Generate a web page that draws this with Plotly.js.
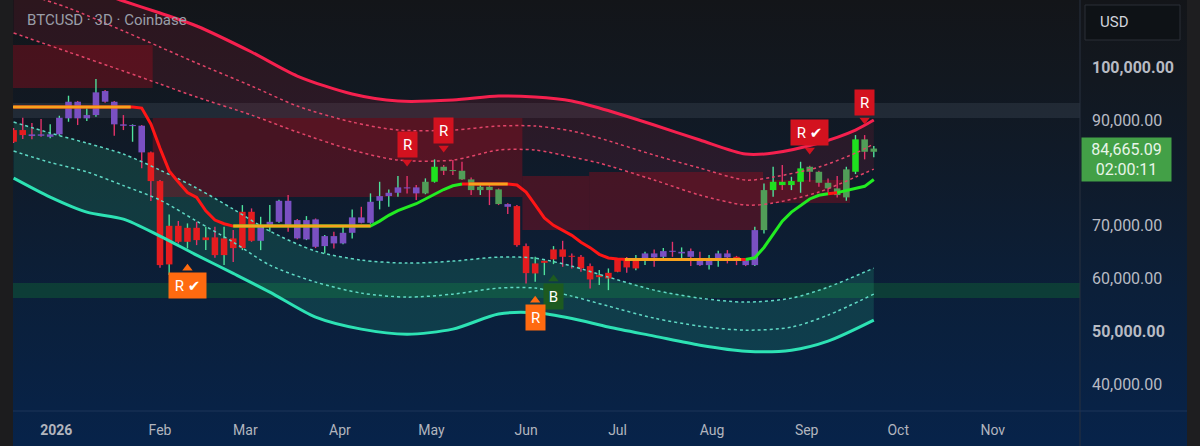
<!DOCTYPE html>
<html><head><meta charset="utf-8">
<script src="https://cdn.plot.ly/plotly-3.0.1.min.js"></script>
<style>
html,body{margin:0;padding:0;background:#0b1a30;}
#chart{width:1200px;height:446px;background:linear-gradient(180deg,#131519 0%,#121820 18%,#0f1b2b 40%,#0b1f39 65%,#07234a 100%);}
</style></head><body><div id="chart"></div>
<script>
// ---------- candle data (3D bars) ----------
const firstBar = '2025-12-15';
const barDays = 3;
const candleOpen = [88175, 88175, 87360, 87360, 86900, 87360, 90400, 93550, 90400, 91020,
 95580, 93550, 89260, 88935, 89000, 83943, 78496, 62685, 70012, 66975,
 69632, 67297, 67810, 64450, 67620, 65779, 72669, 67165, 69822, 70771,
 74757, 71093, 67430, 71226, 66159, 68057, 66671, 68683, 71606, 70581,
 74757, 75649, 76275, 77300, 77300, 76161, 78363, 81210, 80583, 80451,
 78817, 76787, 77414, 76920, 74130, 73751, 66159, 60977, 62989, 63634,
 65532, 64317, 64128, 62363, 60275, 60028, 61281, 63824, 61926, 63824,
 64773, 64128, 65267, 64773, 65210, 63824, 62553, 63634, 64773, 64128,
 63501, 62553, 69195, 76787, 78363, 77737, 78363, 81210, 80261, 78173,
 77110, 75402, 80261, 86410, 84057];
const candleHigh = [88555, 90510, 89500, 90260, 89260, 90890, 94690, 93700, 92290, 97855,
 95770, 93700, 91020, 89260, 89130, 84100, 78700, 72175, 70904, 70467,
 70771, 69822, 69822, 69822, 69195, 73940, 73314, 71720, 73940, 74950,
 75839, 71300, 71853, 71400, 68247, 68873, 69822, 73124, 73618, 76161,
 78363, 76920, 79445, 79445, 77737, 79008, 82614, 81533, 82481, 82159,
 79198, 78059, 77737, 77100, 74300, 73940, 66671, 64128, 63400, 66159,
 67165, 64773, 64450, 62875, 61603, 61926, 63881, 64071, 64450, 65077,
 65532, 65779, 66975, 65912, 65722, 65077, 64450, 65267, 65399, 64300,
 63634, 69822, 78059, 81210, 81533, 79312, 82159, 81400, 80450, 79008,
 79445, 81210, 87226, 87226, 85139];
const candleLow = [85710, 86470, 86410, 86900, 86600, 87090, 89750, 89125, 89880, 90700,
 93360, 87090, 88175, 85955, 80906, 74700, 62040, 60655, 66671, 65722,
 66348, 65399, 63938, 62553, 63122, 65399, 66975, 65399, 68873, 70600,
 68873, 67450, 67297, 65779, 64773, 65722, 66500, 67620, 70467, 70400,
 73124, 73618, 75516, 76161, 74889, 76000, 78200, 79635, 79635, 78685,
 75839, 75839, 73940, 73940, 72232, 66026, 59079, 59383, 60655, 62742,
 62230, 61926, 61281, 58130, 58757, 57807, 61200, 61091, 61600, 62553,
 62230, 63800, 64128, 63501, 62363, 62363, 61736, 62230, 62875, 62553,
 62363, 62363, 68569, 75516, 76787, 76787, 76275, 78363, 77414, 76275,
 75402, 74757, 79824, 82614, 82994];
const candleClose = [85955, 87225, 87040, 87090, 87360, 90510, 93550, 90400, 91020, 95330,
 93550, 89260, 88990, 89125, 83943, 78496, 62553, 70012, 66975, 69632,
 67297, 67810, 64450, 67620, 65779, 72669, 67165, 70145, 70771, 74757,
 69822, 67620, 71093, 66026, 68057, 66671, 68683, 71606, 70581, 74567,
 75649, 76275, 77300, 77110, 76161, 78363, 81210, 80451, 80394, 78817,
 76787, 77414, 76787, 74130, 73618, 66348, 61034, 62875, 63369, 65532,
 64128, 64128, 61926, 59838, 60655, 61091, 63634, 62116, 63634, 64773,
 64014, 65210, 65077, 65077, 64128, 62553, 63824, 64773, 64014, 63634,
 62553, 69195, 76787, 78363, 77737, 78496, 80906, 80261, 78173, 77110,
 75839, 80717, 86410, 84057, 84665.09];
// trend colouring of each bar: r = bearish, p = neutral, g = bullish, G = strong bullish
const candleTrend = ('rr' + 'ppppppppppppp' + 'rrrrrrrrrrrr' + 'pppppppppppppppppp' + 'gG' + 'ggggggg' + 'p' +
  'rrrrrrrrrrrrrr' + 'pppppppppp' + 'r' + 'pp' + 'g' + 'GGGG' + 'ggggg' + 'G' + 'gg').split('');

// ---------- upper (red) envelope, sampled at bar index ----------
const bandIdx   = [0, 6, 12, 16, 20, 26, 31, 37, 42, 48, 53, 57, 61, 64, 70, 75, 80, 83, 88, 92, 94];
const upperLine = [119490, 116270, 112660, 110380, 107920, 102980, 98430, 95010, 93680, 93870, 94630, 94440, 93680, 92350, 89130, 86280, 83620, 83810, 85710, 88180, 90070];
const upperDot1 = [114750, 111330, 106970, 103930, 100890, 96530, 92730, 89690, 88180, 88180, 88940, 88940, 87990, 86660, 83430, 80960, 78690, 79260, 81150, 83810, 85520];
const upperDot2 = [106590, 102980, 99370, 96910, 94440, 91020, 87800, 84380, 82480, 82480, 84380, 84380, 83050, 81910, 78690, 75840, 73940, 74320, 76410, 79250, 80770];

// ---------- lower (teal) envelope ----------
const tealIdx   = [0, 4, 8, 12, 16, 20, 24, 28, 33, 38, 43, 48, 53, 57, 61, 65, 70, 75, 80, 85, 89, 94];
const lowerLine = [79065, 75459, 72612, 71283, 68057, 64450, 60977, 57428, 52683, 50405, 49456, 50405, 53270, 53499, 52436, 50804, 49077, 47369, 46230, 46420, 48128, 52114];
const lowerDot1 = [89694, 87606, 85708, 83620, 80583, 77167, 73181, 69005, 65209, 63501, 62932, 63312, 64071, 63881, 62363, 60275, 57808, 56289, 55530, 56289, 58377, 61983];
const lowerDot2 = [84190, 82030, 80240, 77640, 74890, 70900, 66920, 62550, 59330, 57238, 56479, 57048, 58187, 58187, 56669, 54770, 52493, 50974, 50215, 50785, 53062, 57048];

// ---------- trailing stop line ----------
const trailIdx = [0, 13, 14, 15, 16, 17, 18, 19, 20, 21, 22, 23, 24,
  39, 40, 41, 42, 43, 44, 45, 46, 47, 48, 49,
  54, 55, 56, 57, 58, 59, 60, 61, 62, 63, 64, 65, 66, 67,
  80, 81, 82, 83, 84, 85, 86, 87, 88, 89, 90, 91, 92, 93, 94];
const trailVal = [92540, 92540, 92350, 89330, 84720, 80430, 78300, 76310, 75400, 72850, 71100, 70400, 69950,
  69950, 70900, 72000, 72900, 73600, 74200, 75100, 76000, 76900, 77600, 77950,
  77950, 77750, 76400, 74000, 71500, 70100, 69200, 68200, 66900, 65870, 64600, 63900, 63700, 63620,
  63620, 63950, 65900, 68400, 70900, 72600, 73900, 75100, 75800, 76100, 76300, 76700, 77000, 77500, 78800];
const trailState = ['r','r','r','r','r','r','r','r','r','r','r','r','g',
  'g','g','g','g','g','g','g','g','g','g','r',
  'r','r','r','r','r','r','r','r','r','r','r','r','r','r',
  'g','g','g','g','g','g','g','g','g','r','g','g','g','g','g'];

// ---------- flat levels (orange) ----------
const levelStart = [-0.5, 24, 49.7, 66.8];
const levelEnd   = [12.8, 39, 54, 79.5];
const levelPrice = [92540, 69950, 77950, 63620];

// ---------- stepped supply zone ----------
const zoneStart  = [-0.5, 15.2, 55.6, 62.9, 81.9];
const zoneEnd    = [15.2, 55.6, 62.9, 81.9, 91.4];
const zoneTop    = [104310, 90450, 79450, 80200, 78690];
const zoneBottom = [96150, 75460, 69200, 69200, 74320];

// ---------- horizontal zones ----------
const grayZone  = [90450, 93300];
const greenZone = [56300, 59150];

// ---------- signal labels ----------
const sigIdx   = [43, 47, 87, 93, 19, 59, 57];
const sigPrice = [82100, 84760, 84380, 90070, 61980, 59895, 55910];
const sigText  = ['R', 'R', 'R ✔', 'R', 'R ✔', 'B', 'R'];
const sigKind  = ['red', 'red', 'red', 'red', 'orange', 'buy', 'orange'];
const sigSide  = ['above', 'above', 'above', 'above', 'below', 'below', 'below'];

// ---------- axes labels ----------
const monthTicks = ['2025-12-29', '2026-02-01', '2026-03-01', '2026-04-01', '2026-05-01', '2026-06-01',
  '2026-07-01', '2026-08-01', '2026-09-01', '2026-10-01', '2026-11-01'];
const monthText = ['<b>2026</b>', 'Feb', 'Mar', 'Apr', 'May', 'Jun', 'Jul', 'Aug', 'Sep', 'Oct', 'Nov'];
const priceTicks = [40000, 50000, 60000, 70000, 90000, 100000];
const priceText = ['40,000.00', '<b>50,000.00</b>', '60,000.00', '70,000.00', '90,000.00', '<b>100,000.00</b>'];
const lastPrice = 84665.09;
const countdown = '02:00:11';

// ---------- helpers ----------
const DAY = 864e5;
const t0 = Date.parse(firstBar + 'T00:00:00Z');
function barDate(i) {
  return new Date(t0 + i * barDays * DAY).toISOString().slice(0, 19).replace('T', ' ');
}
const fmt = v => v.toLocaleString('en-US', {minimumFractionDigits: 2, maximumFractionDigits: 2});

const bodyColor = {r: '#e41c1f', p: '#7a50c2', g: '#519d58', G: '#1fe01f'};
const wickUp = '#4fe39d', wickDown = '#e5336a';
const sigColor = {red: '#d3121f', orange: '#ff6a10', buy: '#1d5a20'};

const dates = candleOpen.map((_, i) => barDate(i));
const bodyBase = [], bodyLen = [], bodyCol = [], wickCol = [], wickLen = [];
candleOpen.forEach((o, i) => {
  const c = candleClose[i];
  let lo = Math.min(o, c), len = Math.abs(c - o);
  if (len < 200) { lo -= (200 - len) / 2; len = 200; }
  bodyBase.push(lo); bodyLen.push(len);
  bodyCol.push(bodyColor[candleTrend[i]]);
  wickCol.push(c >= o ? wickUp : wickDown);
  wickLen.push(candleHigh[i] - candleLow[i]);
});

const traces = [];
const L1 = {xaxis: 'x', yaxis: 'y', hoverinfo: 'skip', showlegend: false};
const L2 = {xaxis: 'x2', yaxis: 'y2', hoverinfo: 'skip', showlegend: false};

// --- subplot 1 : fills (below candles)
traces.push(Object.assign({type: 'scatter', mode: 'lines', x: tealIdx.map(barDate), y: lowerDot1,
  line: {width: 0, shape: 'spline', smoothing: 0.8}}, L1));
traces.push(Object.assign({type: 'scatter', mode: 'lines', x: tealIdx.map(barDate), y: lowerLine,
  line: {width: 0, shape: 'spline', smoothing: 0.8}, fill: 'tonexty', fillcolor: 'rgba(40,205,150,0.17)'}, L1));
traces.push(Object.assign({type: 'scatter', mode: 'lines', x: bandIdx.map(barDate), y: upperDot2,
  line: {width: 0, shape: 'spline', smoothing: 0.8}}, L1));
traces.push(Object.assign({type: 'scatter', mode: 'lines', x: bandIdx.map(barDate), y: upperLine,
  line: {width: 0, shape: 'spline', smoothing: 0.8}, fill: 'tonexty', fillcolor: 'rgba(200,30,55,0.14)'}, L1));
zoneStart.forEach((s, k) => {
  const a = barDate(s), b = barDate(zoneEnd[k]);
  traces.push(Object.assign({type: 'scatter', mode: 'lines', x: [a, b, b, a, a],
    y: [zoneTop[k], zoneTop[k], zoneBottom[k], zoneBottom[k], zoneTop[k]],
    line: {width: 0}, fill: 'toself', fillcolor: 'rgba(165,12,28,0.36)'}, L1));
});

// --- subplot 2 : candles then indicator lines
traces.push(Object.assign({type: 'bar', x: dates, y: wickLen, base: candleLow, width: 0.45 * DAY,
  marker: {color: wickCol, line: {width: 0}}}, L2));
traces.push(Object.assign({type: 'bar', x: dates, y: bodyLen, base: bodyBase, width: 2.15 * DAY,
  marker: {color: bodyCol, line: {width: 0}}}, L2));

[[upperDot1, '#e24468'], [upperDot2, '#e24468']].forEach(([arr, col]) => {
  traces.push(Object.assign({type: 'scatter', mode: 'lines', x: bandIdx.map(barDate), y: arr,
    line: {color: col, width: 1.5, dash: 'dot', shape: 'spline', smoothing: 0.8}}, L2));
});
[[lowerDot1, '#5fd8c4'], [lowerDot2, '#5fd8c4']].forEach(([arr, col]) => {
  traces.push(Object.assign({type: 'scatter', mode: 'lines', x: tealIdx.map(barDate), y: arr,
    line: {color: col, width: 1.5, dash: 'dot', shape: 'spline', smoothing: 0.8}}, L2));
});
traces.push(Object.assign({type: 'scatter', mode: 'lines', x: bandIdx.map(barDate), y: upperLine,
  line: {color: '#f5204e', width: 3, shape: 'spline', smoothing: 0.8}}, L2));
traces.push(Object.assign({type: 'scatter', mode: 'lines', x: tealIdx.map(barDate), y: lowerLine,
  line: {color: '#2de2b4', width: 3, shape: 'spline', smoothing: 0.8}}, L2));

// trailing line, split into coloured runs
const runs = []; let cur = null;
for (let k = 0; k < trailIdx.length - 1; k++) {
  const s = trailState[k];
  if (!cur || cur.s !== s) { cur = {s: s, x: [trailIdx[k]], y: [trailVal[k]]}; runs.push(cur); }
  cur.x.push(trailIdx[k + 1]); cur.y.push(trailVal[k + 1]);
}
runs.forEach(r => {
  traces.push(Object.assign({type: 'scatter', mode: 'lines', x: r.x.map(barDate), y: r.y,
    line: {color: r.s === 'r' ? '#ff1616' : '#22ec22', width: 3}}, L2));
});
levelStart.forEach((s, k) => {
  traces.push(Object.assign({type: 'scatter', mode: 'lines', x: [barDate(s), barDate(levelEnd[k])],
    y: [levelPrice[k], levelPrice[k]], line: {color: '#f7a21d', width: 3}}, L2));
});
// label pointers
traces.push(Object.assign({type: 'scatter', mode: 'markers', x: sigIdx.map(barDate), y: sigPrice,
  marker: {symbol: sigSide.map(s => s === 'above' ? 'triangle-down' : 'triangle-up'),
    color: sigKind.map(k => sigColor[k]), size: 9, line: {width: 0}}}, L2));

// ---------- layout ----------
const yRange = [34875, 112850];
const xRange = ['2025-12-14 19:17', '2026-11-29 14:29'];
const px = v => (v - 13) / 1067;          // page x -> paper x
const py = v => (411 - v) / 411;          // page y -> paper y

const annotations = [
  {xref: 'paper', yref: 'paper', x: px(25), y: py(20), xanchor: 'left', yanchor: 'middle', showarrow: false,
    text: 'BTCUSD · 3D · Coinbase', font: {family: 'Roboto', size: 15, color: '#9a9ea8'}},
  {xref: 'paper', yref: 'paper', x: px(1098), y: py(22.5), xanchor: 'left', yanchor: 'middle', showarrow: false,
    text: 'USD', font: {family: 'Roboto', size: 15, color: '#d1d4dc'}},
  {xref: 'paper', yref: 'y', x: px(1081), y: lastPrice, xanchor: 'left', yanchor: 'top', yshift: 11.5,
    showarrow: false, width: 89, height: 43, borderpad: 0, bgcolor: '#43a047', align: 'center',
    text: fmt(lastPrice) + '<br>' + countdown, font: {family: 'Roboto', size: 16, color: '#e8f5e9'}}
];
sigIdx.forEach((i, k) => {
  const above = sigSide[k] === 'above';
  const wide = sigText[k].length > 1;
  annotations.push({xref: 'x', yref: 'y', x: barDate(i), y: sigPrice[k], showarrow: false,
    xanchor: 'center', yanchor: above ? 'bottom' : 'top', yshift: above ? 4 : -4,
    text: sigText[k], bgcolor: sigColor[sigKind[k]], borderpad: 2, width: wide ? 33 : 15, height: 21,
    font: {family: 'Roboto, DejaVu Sans', size: 15, color: '#ffffff'}});
});

const shapes = [
  {type: 'rect', xref: 'paper', yref: 'y', x0: 0, x1: 1, y0: grayZone[0], y1: grayZone[1],
    fillcolor: 'rgba(150,160,180,0.13)', line: {width: 0}, layer: 'below'},
  {type: 'rect', xref: 'paper', yref: 'y', x0: 0, x1: 1, y0: greenZone[0], y1: greenZone[1],
    fillcolor: 'rgba(20,140,50,0.28)', line: {width: 0}, layer: 'below'},
  {type: 'rect', xref: 'paper', yref: 'paper', x0: px(0), x1: px(13), y0: py(446), y1: 1,
    fillcolor: '#1c1c1e', line: {width: 0}},
  {type: 'rect', xref: 'paper', yref: 'paper', x0: px(1187), x1: px(1200), y0: py(446), y1: 1,
    fillcolor: '#1e1e20', line: {width: 0}},
  {type: 'line', xref: 'paper', yref: 'paper', x0: 1, x1: 1, y0: py(446), y1: 1,
    line: {color: '#28303e', width: 1}},
  {type: 'line', xref: 'paper', yref: 'paper', x0: px(13), x1: px(1187), y0: 0, y1: 0,
    line: {color: '#1d3558', width: 1}},
  {type: 'rect', xref: 'paper', yref: 'paper', x0: px(1085), x1: px(1180), y0: py(40), y1: py(5),
    fillcolor: '#0e1216', line: {color: '#2a2e36', width: 1}}
];

const layout = {
  width: 1200, height: 446, margin: {l: 13, r: 120, t: 0, b: 35},
  paper_bgcolor: 'rgba(0,0,0,0)', plot_bgcolor: 'rgba(0,0,0,0)',
  font: {family: 'Roboto, sans-serif'},
  showlegend: false, barmode: 'overlay',
  xaxis: {type: 'date', range: xRange, tickmode: 'array', tickvals: monthTicks, ticktext: monthText,
    showgrid: false, zeroline: false, ticks: '', showline: false, ticklabelstandoff: 9,
    tickfont: {family: 'Roboto', size: 14, color: '#b2b5be'}},
  xaxis2: {type: 'date', range: xRange, overlaying: 'x', anchor: 'y2', visible: false},
  yaxis: {range: yRange, side: 'right', tickmode: 'array', tickvals: priceTicks, ticktext: priceText,
    showgrid: false, zeroline: false, ticks: '', showline: false, ticklabelstandoff: 11,
    tickfont: {family: 'Roboto', size: 16, color: '#b8bbc4'}},
  yaxis2: {range: yRange, overlaying: 'y', anchor: 'x2', visible: false},
  shapes: shapes, annotations: annotations
};

Plotly.newPlot('chart', traces, layout, {displayModeBar: false, staticPlot: true});
</script></body></html>
